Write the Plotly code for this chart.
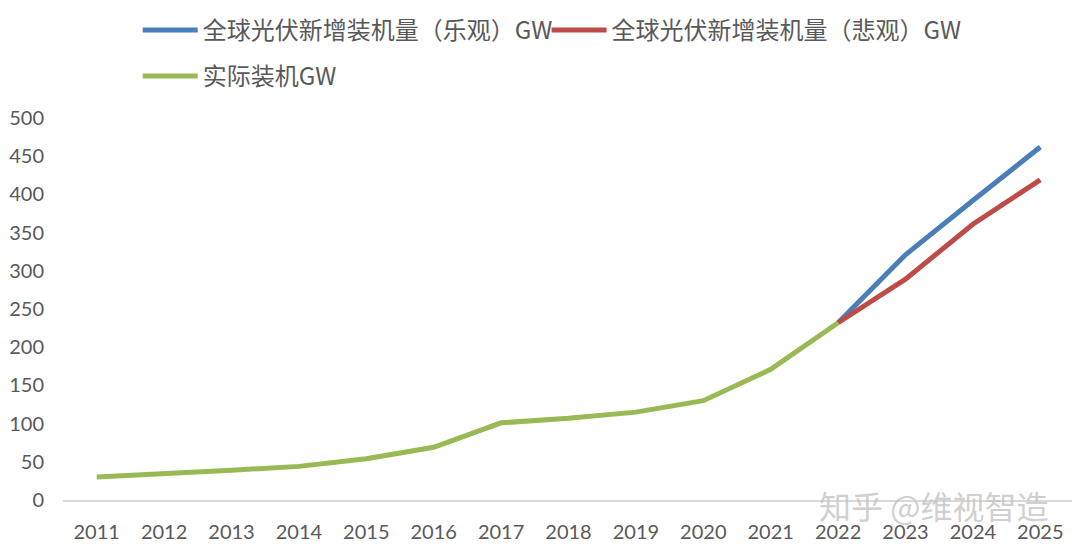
import plotly.graph_objects as go

years = [str(y) for y in range(2011, 2026)]
actual = [30, 34, 39, 44, 54, 69, 101, 107, 115, 130, 171, 232, None, None, None]
optimistic = [None] * 11 + [232, 321, 392, 462]
pessimistic = [None] * 11 + [232, 289, 361, 419]

names = ["全球光伏新增装机量（乐观）GW", "全球光伏新增装机量（悲观）GW", "实际装机GW"]
colors = ["#4A7EBB", "#BE4B48", "#98B954"]
legends = ["legend", "legend3", "legend2"]

W, H = 1072, 544

fig = go.Figure()
for name, vals, col, lg in zip(names, [optimistic, pessimistic, actual], colors, legends):
    fig.add_trace(go.Scatter(x=years, y=vals, name=name, mode="lines", legend=lg,
                             line=dict(color=col, width=5), connectgaps=False))

legend_common = dict(orientation="h", xref="container", yref="container",
                     xanchor="left", yanchor="top",
                     font=dict(size=24, family="Noto Sans CJK SC", color="#595959"),
                     itemwidth=55, traceorder="normal", bgcolor="rgba(0,0,0,0)")

fig.update_layout(
    width=W, height=H,
    margin=dict(l=55, r=6, t=110, b=52, autoexpand=False),
    paper_bgcolor="white", plot_bgcolor="white",
    font=dict(family="Lato, Noto Sans CJK SC", color="#595959", size=20),
    showlegend=True,
    legend=dict(x=0.121, y=1.0, **legend_common),
    legend3=dict(x=0.5024, y=1.0, **legend_common),
    legend2=dict(x=0.121, y=1 - 46 / H, **legend_common),
    xaxis=dict(type="category", range=[-0.5, 14.5], showgrid=False, showline=True,
               linecolor="#D9D9D9", linewidth=1.5, ticks="", tickfont=dict(size=20),
               ticklabelstandoff=13),
    yaxis=dict(range=[0, 500], dtick=50, showgrid=False, zeroline=False,
               showline=False, ticks="", tickfont=dict(size=20), ticklabelstandoff=18),
    annotations=[dict(text="知乎 @维视智造", x=0.976, y=-0.012, xref="paper", yref="paper",
                      xanchor="right", yanchor="middle", showarrow=False,
                      font=dict(size=32, family="Noto Sans CJK SC", color="rgba(195,195,195,0.8)"))],
)

fig.write_html("out.html")
